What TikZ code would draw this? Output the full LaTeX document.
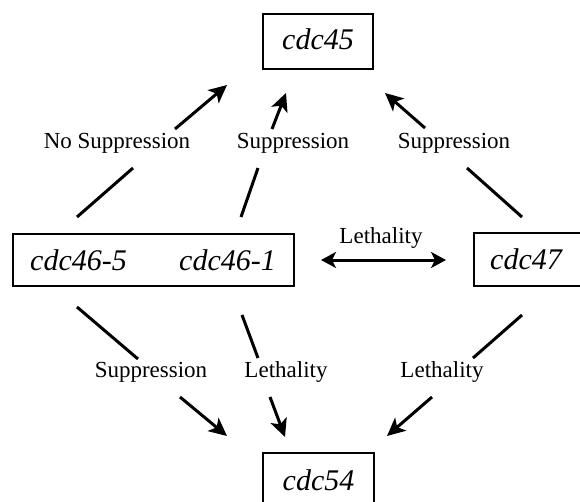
\documentclass[tikz,border=0pt]{standalone}
\usepackage{fontspec}
\setmainfont{Liberation Serif}
\usetikzlibrary{arrows.meta}
\begin{document}
\begin{tikzpicture}[x=1pt,y=-1pt,
  box/.style={draw, line width=1.6pt, inner sep=0pt, anchor=base},
  gene/.style={inner sep=0pt, anchor=base, font=\fontsize{30}{36}\selectfont\itshape},
  lbl/.style={inner sep=0pt, anchor=base, font=\fontsize{23}{27}\selectfont},
  conn/.style={line width=3pt},
  tipA/.tip={Stealth[length=18pt,width=17pt,inset=4.5pt]},
  tipB/.tip={Stealth[length=15pt,width=16pt,inset=4pt]},
  arr/.style={line width=3pt, -tipA},
  darr/.style={line width=3pt, tipB-tipB}]
\useasboundingbox (0,0) rectangle (580,501);

% gene boxes
\node[box, gene, minimum width=110pt, text height=35pt, text depth=20pt] (c45) at (318,49) {cdc45};
\node[box, minimum width=281pt, text height=36pt, text depth=16pt] (c46) at (153.5,270) {};
\node[gene] (c465) at (78.5,270) {cdc46-5};
\node[gene] (c461) at (227.5,270) {cdc46-1};
\node[box, minimum width=116pt, text height=36pt, text depth=17pt] (c47) at (532,269) {};
\node[gene] (c47t) at (526,269) {cdc47};
\node[box, gene, minimum width=111pt, text height=37pt, text depth=25pt] (c54) at (318.5,490) {cdc54};

% labels
\node[lbl] (l1) at (117,148) {No Suppression};
\node[lbl] (l2) at (293,148) {Suppression};
\node[lbl] (l3) at (454,148) {Suppression};
\node[lbl] (l4) at (381,243) {Lethality};
\node[lbl] (l5) at (151,377.5) {Suppression};
\node[lbl] (l6) at (286,377.5) {Lethality};
\node[lbl] (l7) at (442,377.5) {Lethality};

% connector end points
\coordinate (a1) at (77,217);  \coordinate (b1) at (133,168);
\coordinate (c1) at (175,129); \coordinate (d1) at (227,85);
\coordinate (a2) at (241,217); \coordinate (b2) at (258,168);
\coordinate (c2) at (272,129); \coordinate (d2) at (286,93);
\coordinate (a3) at (522,217); \coordinate (b3) at (467,168);
\coordinate (c3) at (425,128); \coordinate (d3) at (385,93);
\coordinate (a4) at (321,260); \coordinate (d4) at (446,260);
\coordinate (a5) at (77,307);  \coordinate (b5) at (138,359);
\coordinate (c5) at (180,397); \coordinate (d5) at (227,436);
\coordinate (a6) at (242,315); \coordinate (b6) at (258,358);
\coordinate (c6) at (270,397); \coordinate (d6) at (285,437);
\coordinate (a7) at (522,315); \coordinate (b7) at (473,358);
\coordinate (c7) at (432,397); \coordinate (d7) at (387,436);

% connectors
\draw[conn] (a1) -- (b1); \draw[arr] (c1) -- (d1);
\draw[conn] (a2) -- (b2); \draw[arr] (c2) -- (d2);
\draw[conn] (a3) -- (b3); \draw[arr] (c3) -- (d3);
\draw[darr] (a4) -- (d4);
\draw[conn] (a5) -- (b5); \draw[arr] (c5) -- (d5);
\draw[conn] (a6) -- (b6); \draw[arr] (c6) -- (d6);
\draw[conn] (a7) -- (b7); \draw[arr] (c7) -- (d7);
\end{tikzpicture}
\end{document}
